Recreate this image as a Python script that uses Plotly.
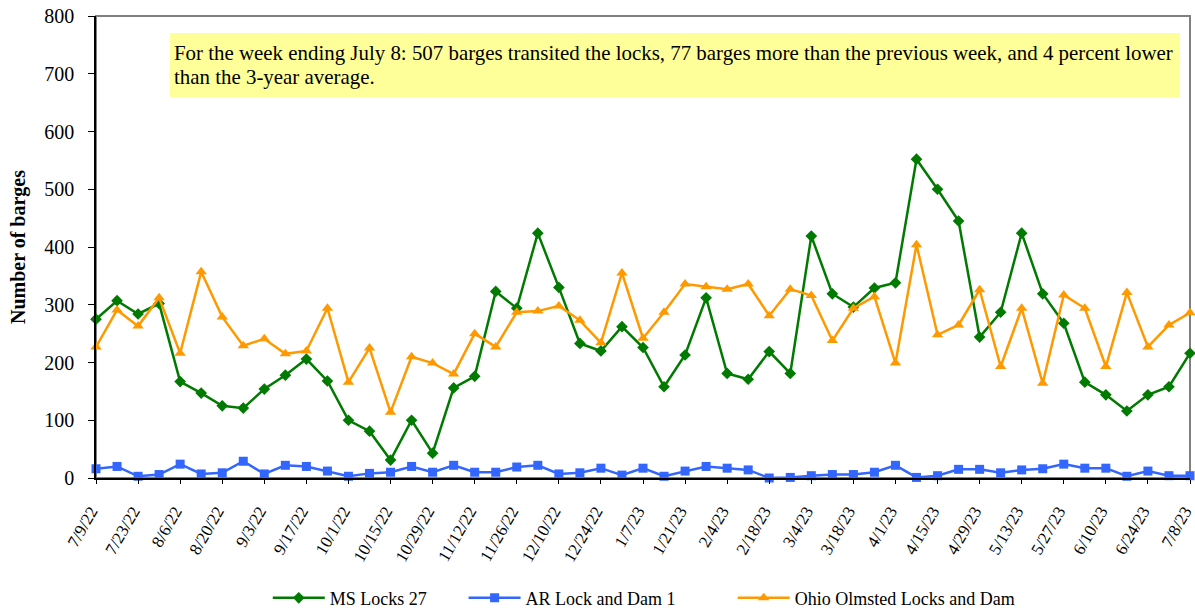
import plotly.graph_objects as go

weeks = ["7/9/22", "7/16/22", "7/23/22", "7/30/22", "8/6/22", "8/13/22", "8/20/22", "8/27/22",
         "9/3/22", "9/10/22", "9/17/22", "9/24/22", "10/1/22", "10/8/22", "10/15/22", "10/22/22",
         "10/29/22", "11/5/22", "11/12/22", "11/19/22", "11/26/22", "12/3/22", "12/10/22", "12/17/22",
         "12/24/22", "12/31/22", "1/7/23", "1/14/23", "1/21/23", "1/28/23", "2/4/23", "2/11/23",
         "2/18/23", "2/25/23", "3/4/23", "3/11/23", "3/18/23", "3/25/23", "4/1/23", "4/8/23",
         "4/15/23", "4/22/23", "4/29/23", "5/6/23", "5/13/23", "5/20/23", "5/27/23", "6/3/23",
         "6/10/23", "6/17/23", "6/24/23", "7/1/23", "7/8/23"]

ms_locks_27 = [275, 307, 284, 302, 167, 147, 125, 121, 154, 178, 206, 168, 100, 81, 31, 100,
               43, 156, 176, 323, 294, 424, 330, 233, 220, 262, 226, 158, 213, 312, 181, 171,
               219, 181, 419, 319, 296, 329, 338, 552, 500, 445, 244, 287, 424, 319, 268, 166,
               144, 116, 144, 158, 216]

ar_lock_dam_1 = [16, 20, 3, 6, 24, 7, 9, 29, 7, 22, 20, 12, 3, 8, 10, 20,
                 10, 22, 10, 10, 19, 22, 7, 9, 17, 5, 17, 3, 12, 20, 17, 14,
                 0, 1, 4, 6, 6, 10, 22, 1, 4, 15, 15, 9, 14, 16, 24, 17,
                 17, 3, 12, 4, 4]

ohio_olmsted = [227, 291, 263, 312, 216, 357, 279, 229, 241, 215, 220, 294, 166, 225, 114, 210,
                199, 180, 250, 227, 287, 289, 298, 273, 234, 355, 242, 287, 336, 331, 327, 336,
                281, 327, 316, 238, 294, 314, 199, 404, 248, 265, 326, 193, 294, 164, 317, 294,
                193, 321, 227, 265, 286]

tick_labels = weeks[::2]
y_ticks = [0, 100, 200, 300, 400, 500, 600, 700, 800]

note_line1 = ("For the week ending July 8: 507 barges transited the locks, "
              "77 barges more than the previous week, and 4 percent lower")
note_line2 = "than the 3-year average."

FONT = "Liberation Serif, Times New Roman, serif"

fig = go.Figure()
fig.add_trace(go.Scatter(
    x=weeks, y=ms_locks_27, name="MS Locks 27", mode="lines+markers",
    line=dict(color="#007A00", width=2.5),
    marker=dict(symbol="diamond", size=9, color="#007A00"),
    cliponaxis=False, legend="legend"))
fig.add_trace(go.Scatter(
    x=weeks, y=ar_lock_dam_1, name="AR Lock and Dam 1", mode="lines+markers",
    line=dict(color="#3366FF", width=2.5),
    marker=dict(symbol="square", size=9, color="#3366FF"),
    cliponaxis=False, legend="legend2"))
fig.add_trace(go.Scatter(
    x=weeks, y=ohio_olmsted, name="Ohio Olmsted Locks and Dam", mode="lines+markers",
    line=dict(color="#FF9900", width=2.5),
    marker=dict(symbol="triangle-up", size=10, color="#FF9900"),
    cliponaxis=False, legend="legend3"))

fig.add_shape(type="rect", xref="paper", yref="paper", x0=0, x1=1, y0=0, y1=1,
              line=dict(color="#808080", width=2), layer="below")
fig.add_shape(type="rect", xref="paper", yref="paper",
              x0=0.0676, x1=0.9909, y0=0.8247, y1=0.9632,
              line=dict(width=0), fillcolor="#FFFF99", layer="below")
for txt, yy in [(note_line1, 0.920), (note_line2, 0.867)]:
    fig.add_annotation(xref="paper", yref="paper", x=0.0695, y=yy,
                       xanchor="left", yanchor="middle", align="left", showarrow=False,
                       text=txt, font=dict(family=FONT, size=20.9, color="black"))

leg_common = dict(orientation="h", y=-0.26, yanchor="middle", xanchor="left",
                  font=dict(family=FONT, size=18), itemwidth=52, bgcolor="rgba(0,0,0,0)")
fig.update_layout(
    width=1195, height=612,
    margin=dict(l=96, r=5, t=16, b=134, autoexpand=False),
    paper_bgcolor="white", plot_bgcolor="white",
    font=dict(family=FONT, size=18, color="black"),
    showlegend=True,
    legend=dict(x=0.157, **leg_common),
    legend2=dict(x=0.336, **leg_common),
    legend3=dict(x=0.582, **leg_common),
)
fig.update_xaxes(
    type="category", range=[0, len(weeks) - 1], automargin=False,
    tickmode="array", tickvals=tick_labels, ticktext=tick_labels,
    tickangle=-60, tickfont=dict(family=FONT, size=17), ticklabeloverflow="allow",
    ticks="outside", ticklen=4, tickcolor="black", ticklabelstandoff=11, ticklabelshift=-5,
    showline=True, linecolor="black", linewidth=1.5,
    showgrid=False, zeroline=False)
fig.update_yaxes(
    range=[0, 800], tickmode="array", tickvals=y_ticks, automargin=False,
    tickfont=dict(family=FONT, size=20), ticklabeloverflow="allow",
    ticks="outside", ticklen=6, tickcolor="black", ticklabelstandoff=10,
    showline=True, linecolor="black", linewidth=1.5,
    showgrid=False, zeroline=False,
    title=dict(text="<b>Number of barges</b>", font=dict(family=FONT, size=20), standoff=13))

fig.write_html("out.html", config={"displayModeBar": False},
               post_script="document.body.style.margin='0';")
